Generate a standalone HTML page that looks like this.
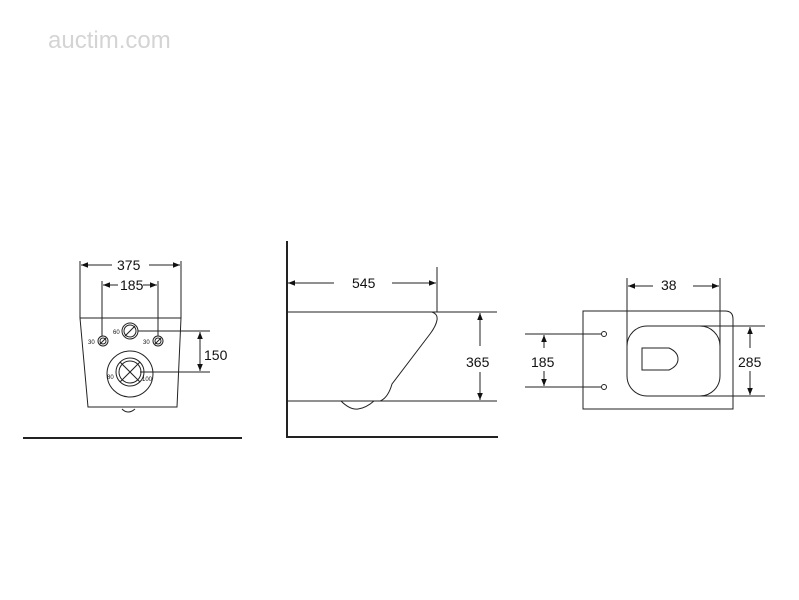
<!DOCTYPE html>
<html><head><style>body{margin:0;background:#fff}svg{display:block}text{font-family:"Liberation Sans",sans-serif;fill:#111}</style></head>
<body>
<svg width="799" height="600" viewBox="0 0 799 600">
<defs><marker id="a" viewBox="0 0 10 10" refX="10" refY="5" markerWidth="7" markerHeight="7" orient="auto-start-reverse"><path d="M0,1L10,5L0,9z" fill="#111"/></marker></defs>
<text x="48" y="48" font-size="24" style="fill:#d4d4d4">auctim.com</text>
<g stroke="#222" fill="none" stroke-width="1">
<line x1="80" y1="261" x2="80" y2="318"/><line x1="181" y1="261" x2="181" y2="318"/>
<line x1="81" y1="265" x2="112" y2="265" marker-start="url(#a)"/><line x1="149" y1="265" x2="180" y2="265" marker-end="url(#a)"/>
<line x1="102" y1="281" x2="102" y2="336"/><line x1="158" y1="281" x2="158" y2="336"/>
<line x1="103" y1="285" x2="118" y2="285" marker-start="url(#a)"/><line x1="143" y1="285" x2="157" y2="285" marker-end="url(#a)"/>
<path d="M80,318 L181,318 L177,407 L88,407 Z"/>
<path d="M122,409 Q128,415 135,409"/>
<circle cx="103" cy="341" r="5"/><circle cx="103" cy="341" r="3"/><line x1="100" y1="344" x2="106" y2="338"/>
<circle cx="158" cy="341" r="5"/><circle cx="158" cy="341" r="3"/><line x1="155" y1="344" x2="161" y2="338"/>
<circle cx="130" cy="331" r="8"/><circle cx="130" cy="331" r="6"/><line x1="125" y1="336" x2="135" y2="326"/>
<circle cx="130" cy="374" r="23"/><circle cx="130" cy="372" r="14"/><circle cx="130" cy="372" r="11"/>
<line x1="120" y1="362" x2="140" y2="382"/><line x1="120" y1="382" x2="140" y2="362"/>
<line x1="138" y1="331" x2="210" y2="331"/><line x1="140" y1="372" x2="210" y2="372"/>
<line x1="200" y1="332" x2="200" y2="371" marker-start="url(#a)" marker-end="url(#a)"/>
<line x1="23" y1="438" x2="242" y2="438" stroke-width="2"/>
<line x1="287" y1="241" x2="287" y2="438" stroke-width="2"/><line x1="287" y1="437" x2="498" y2="437" stroke-width="2"/>
<line x1="437" y1="267" x2="437" y2="312"/>
<line x1="288" y1="283" x2="334" y2="283" marker-start="url(#a)"/><line x1="392" y1="283" x2="436" y2="283" marker-end="url(#a)"/>
<line x1="288" y1="312" x2="497" y2="312"/><line x1="288" y1="401" x2="497" y2="401"/>
<path d="M432,312 Q438,314 437,320 Q436,326 430,334 L392,384 Q388,398 380,401"/>
<path d="M341,401 Q350,410 358,409 Q366,408 374,401"/>
<line x1="480" y1="313" x2="480" y2="346" marker-start="url(#a)"/><line x1="480" y1="372" x2="480" y2="400" marker-end="url(#a)"/>
<path d="M583,311 L725,311 Q733,311 733,319 L733,409 L583,409 Z"/>
<rect x="627" y="326" width="93" height="70" rx="20"/>
<path d="M642,348 L669,348 Q678,352 678,359 Q678,366 669,370 L642,370 Z"/>
<line x1="627" y1="278" x2="627" y2="362"/><line x1="720" y1="278" x2="720" y2="362"/>
<line x1="628" y1="286" x2="653" y2="286" marker-start="url(#a)"/><line x1="693" y1="286" x2="719" y2="286" marker-end="url(#a)"/>
<line x1="688" y1="326" x2="765" y2="326"/><line x1="688" y1="396" x2="765" y2="396"/>
<line x1="750" y1="327" x2="750" y2="348" marker-start="url(#a)"/><line x1="750" y1="371" x2="750" y2="395" marker-end="url(#a)"/>
<line x1="525" y1="334" x2="601" y2="334"/><line x1="525" y1="387" x2="601" y2="387"/>
<circle cx="604" cy="334" r="2.5"/><circle cx="604" cy="387" r="2.5"/>
<line x1="544" y1="335" x2="544" y2="348" marker-start="url(#a)"/><line x1="544" y1="371" x2="544" y2="386" marker-end="url(#a)"/>
</g>
<g font-size="14">
<text x="117" y="270">375</text><text x="120" y="290">185</text><text x="204" y="360">150</text>
<text x="352" y="288">545</text><text x="466" y="367">365</text>
<text x="661" y="290">38</text><text x="738" y="367">285</text><text x="531" y="367">185</text>
</g>
<g font-size="6"><text x="88" y="344">30</text><text x="143" y="344">30</text><text x="113" y="334">60</text><text x="107" y="379">80</text><text x="142" y="381">100</text></g>
</svg>
</body></html>
